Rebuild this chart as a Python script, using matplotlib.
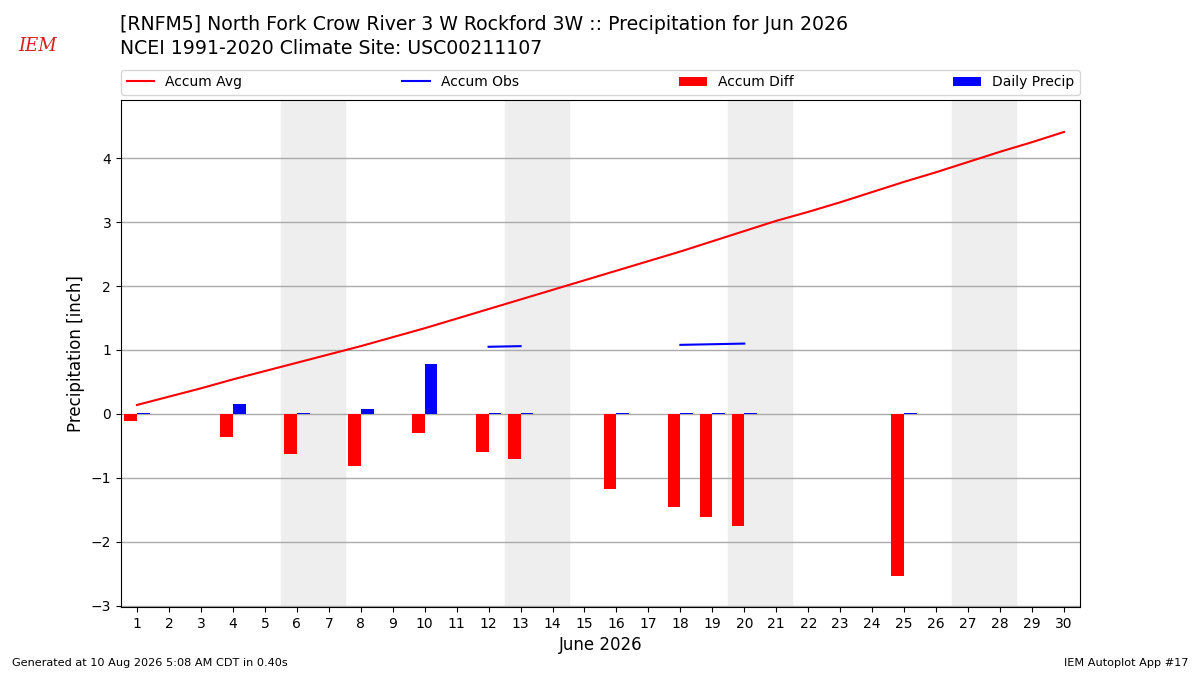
import datetime
import numpy as np
import matplotlib
matplotlib.use("Agg")
import matplotlib.pyplot as plt

days = list(range(1, 31))

# climatology accumulated average (inch)
accum_avg = [0.14, 0.27, 0.40, 0.54, 0.67, 0.80, 0.93, 1.06, 1.20, 1.34,
             1.49, 1.64, 1.79, 1.94, 2.09, 2.24, 2.39, 2.54, 2.70, 2.86,
             3.02, 3.16, 3.31, 3.47, 3.63, 3.78, 3.94, 4.10, 4.25, 4.41]

# observed days only
obs_days = [1, 4, 6, 8, 10, 12, 13, 16, 18, 19, 20, 25]
obs_accum = [0.03, 0.19, 0.19, 0.26, 1.04, 1.05, 1.06, 1.07, 1.08, 1.09, 1.10, 1.10]
obs_diff = [-0.11, -0.36, -0.62, -0.81, -0.30, -0.59, -0.71, -1.17, -1.45, -1.61, -1.75, -2.53]
obs_daily = [0.01, 0.16, 0.01, 0.08, 0.78, 0.01, 0.01, 0.01, 0.01, 0.01, 0.01, 0.01]

title1 = "[RNFM5] North Fork Crow River 3 W Rockford 3W :: Precipitation for Jun 2026"
title2 = "NCEI 1991-2020 Climate Site: USC00211107"

# put obs accum on full day axis, gaps as NaN so only consecutive days connect
accum_full = np.full(len(days), np.nan)
for d, v in zip(obs_days, obs_accum):
    accum_full[d - 1] = v

fig = plt.figure(figsize=(12, 6.75), dpi=100)
ax = fig.add_axes([0.1008, 0.1007, 0.7992, 0.7512])

# weekend shading
for d in days:
    if datetime.date(2026, 6, d).weekday() == 5:
        ax.axvspan(d - 0.5, d + 1.5, color="#EEEEEE", zorder=0)

ax.plot(days, accum_avg, color="red", lw=1.5, label="Accum Avg", zorder=3)
ax.plot(days, accum_full, color="blue", lw=1.5, label="Accum Obs", zorder=3)
ax.bar(np.array(obs_days) - 0.2, obs_diff, width=0.4, color="red",
       label="Accum Diff", zorder=2)
ax.bar(np.array(obs_days) + 0.2, obs_daily, width=0.4, color="blue",
       label="Daily Precip", zorder=2)

ax.set_xlim(0.5, 30.5)
ax.set_ylim(-3.02, 4.91)
ax.set_xticks(days)
ax.set_yticks(range(-3, 5))
ax.grid(True, axis="y", color="#aaaaaa", lw=1)
ax.set_axisbelow(True)
ax.set_ylabel("Precipitation [inch]", fontsize=12)
ax.set_xlabel("June 2026", fontsize=12)

ax.legend(loc="lower left", bbox_to_anchor=(0.0, 1.01, 1.0, 0.05), ncol=4,
          mode="expand", borderaxespad=0.0, fontsize=10)

fig.text(0.1, 0.963, title1, fontsize=13.6, va="center", ha="left")
fig.text(0.1, 0.928, title2, fontsize=13.6, va="center", ha="left")

# IEM logo stand-in
fig.text(0.031, 0.932, "IEM", fontsize=13, color="#d42020", style="italic",
         family="DejaVu Serif", va="center", ha="center")

fig.text(0.01, 0.013, "Generated at 10 Aug 2026 5:08 AM CDT in 0.40s", fontsize=8.1)
fig.text(0.99, 0.013, "IEM Autoplot App #17", fontsize=8.1, ha="right")

fig.savefig("out.png", dpi=100)
